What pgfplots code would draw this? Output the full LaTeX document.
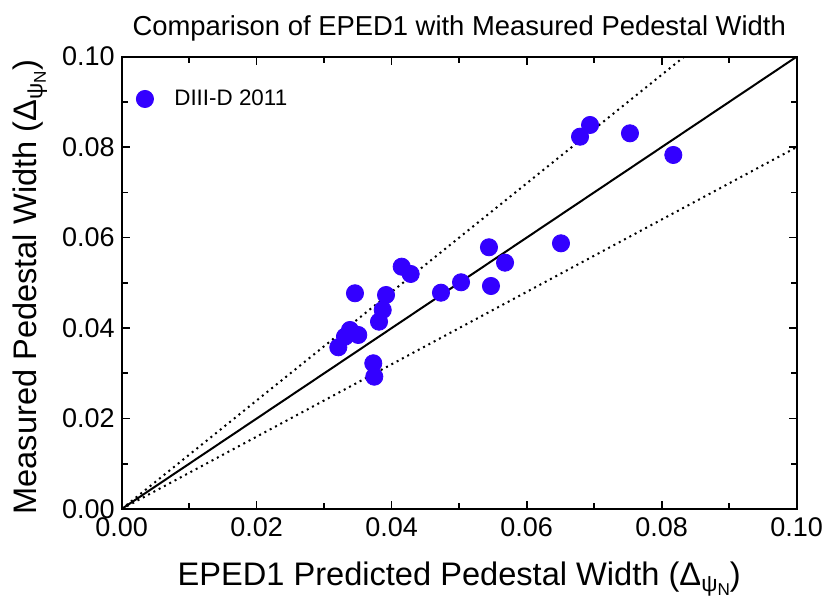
\documentclass[border=0pt]{standalone}
\usepackage{fontspec}
\setmainfont{Liberation Sans}
\usepackage{pgfplots}
\pgfplotsset{compat=1.18}
\definecolor{ptblue}{RGB}{51,0,255}
\newcommand{\dpsi}{\(\)Δ\raisebox{-0.35ex}{\fontsize{0.7em}{1em}\selectfont ψ\raisebox{-0.3ex}{\fontsize{0.75em}{1em}\selectfont N}}}
\begin{document}
\begin{tikzpicture}
\path[use as bounding box] (-60.85pt,-44pt) rectangle (352.15pt,254.5pt);
\begin{axis}[
  at={(0,0)}, anchor=south west,
  scale only axis, width=337.5pt, height=226.15pt,
  xmin=0, xmax=0.1, ymin=0, ymax=0.1,
  xtick={0,0.02,0.04,0.06,0.08,0.1},
  ytick={0,0.02,0.04,0.06,0.08,0.1},
  minor x tick num=1, minor y tick num=1,
  tick align=inside,
  xtick pos=both, ytick pos=both,
  major tick length=4pt, minor tick length=3pt,
  axis line style={line width=1pt},
  every tick/.style={black, line width=0.8pt},
  scaled ticks=false,
  tick label style={font=\fontsize{13.5}{15}\selectfont,
    /pgf/number format/fixed, /pgf/number format/fixed zerofill,
    /pgf/number format/precision=2, /pgf/number format/assume math mode=true},
  xticklabel style={/tikz/yshift=-1pt},
  title={Comparison of EPED1 with Measured Pedestal Width},
  title style={font=\fontsize{13.7}{15}\selectfont, at={(axis description cs:0.5,1.035)}, anchor=center},
  xlabel={EPED1 Predicted Pedestal Width (\dpsi)},
  ylabel={Measured Pedestal Width (\dpsi)},
  xlabel style={font=\fontsize{16.3}{18}\selectfont, at={(axis description cs:0.5,-0.155)}, anchor=center},
  ylabel style={font=\fontsize{16.3}{18}\selectfont, at={(axis description cs:-0.136,0.49)}, anchor=center},
  legend style={at={(axis description cs:0.0211,0.9065)}, anchor=west, draw=none, fill=none,
    inner sep=0pt, font=\fontsize{11.2}{13}\selectfont},
  legend image code/.code={\path[draw=none,fill=none] (0pt,0pt) rectangle (17pt,0.1pt); \draw[#1] plot coordinates {(4.3pt,0pt)};},
  clip=true,
]
\addplot[black, line width=1pt, forget plot] coordinates {(0,0) (0.1,0.1)};
\addplot[black, dotted, line width=1pt, forget plot] coordinates {(0,0) (0.1,0.12)};
\addplot[black, dotted, line width=1pt, forget plot] coordinates {(0,0) (0.1,0.08)};
\addplot[only marks, mark=*, mark size=4.3pt, color=ptblue, mark options={draw=ptblue, fill=ptblue}] coordinates {
(0.04148,0.05357) (0.04281,0.05196) (0.03456,0.04769) (0.03916,0.04731)
(0.03867,0.04400) (0.03812,0.04141) (0.03382,0.03958) (0.03505,0.03847)
(0.03308,0.03809) (0.03209,0.03575) (0.03727,0.03221) (0.03742,0.02925)
(0.05441,0.05786) (0.05679,0.05446) (0.06508,0.05874) (0.05027,0.05012)
(0.04730,0.04782) (0.05471,0.04930) (0.06938,0.08490) (0.06790,0.08231)
(0.07530,0.08306) (0.08172,0.07827)
};
\addlegendentry{DIII-D 2011}
\end{axis}
\end{tikzpicture}
\end{document}
